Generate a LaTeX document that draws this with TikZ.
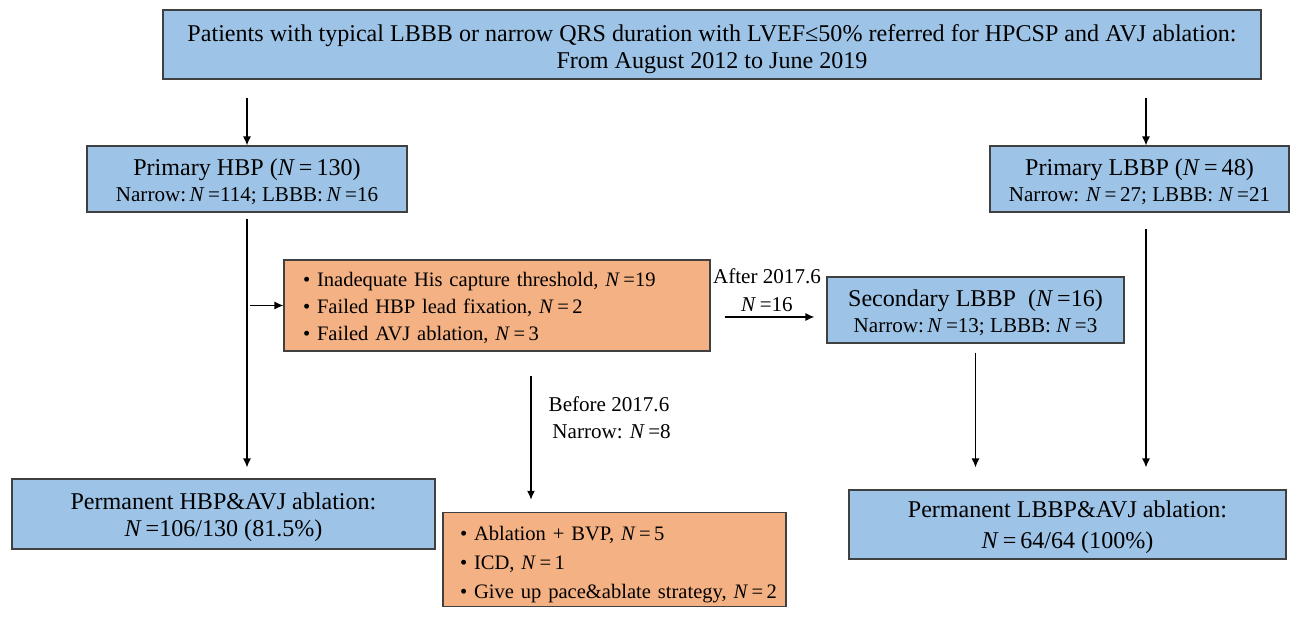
\documentclass[tikz,border=0pt]{standalone}
\usepackage{fontspec}
\setmainfont{Liberation Serif}
\usepackage{xcolor}
\usepackage{tikz}
\usetikzlibrary{arrows.meta,positioning}
\definecolor{boxblue}{HTML}{9DC3E6}
\definecolor{boxorange}{HTML}{F4B183}
\definecolor{boxline}{HTML}{404040}
\newcommand{\bigtext}{\fontsize{13.7}{15.4}\selectfont}
\newcommand{\smalltext}{\fontsize{12}{15.6}\selectfont}
\newcommand{\listtext}{\fontsize{11.7}{15.4}\selectfont}
\newcommand{\looselist}{\fontsize{11.7}{16.5}\selectfont}
\newcommand{\Nv}{\textit{N}}
\newcommand{\lift}[1][13pt]{\rule{0pt}{#1}}
\tikzset{
	>={Latex[length=1.8mm,width=1.6mm]},
	link/.style = {->, draw=black, line width=0.8pt},
	bluebox/.style = {
			draw            = boxline,
			fill            = boxblue,
			line width      = 0.6pt,
			align           = center,
			inner sep       = 2pt,
		},
	orangebox/.style = {
			draw            = boxline,
			fill            = boxorange,
			line width      = 0.6pt,
			align           = left,
			inner ysep      = 2pt,
			font            = \listtext,
			execute at begin node = {\rule{0pt}{#1}},
		},
	orangebox/.default = 11.4pt,
}

\begin{document}
\begin{tikzpicture}
	\useasboundingbox (0,0) rectangle (25.82,12.5);
	% Boxes
	\node[bluebox,minimum width=21.96cm,minimum height=1.38cm,font=\bigtext] (Patients) at (14.24,11.61)
	{\lift[15.4pt]Patients with typical LBBB or narrow QRS duration with LVEF≤50\% referred for HPCSP and AVJ ablation:\\
		From August 2012 to June 2019};
	\node[bluebox,minimum width=6.4cm,minimum height=1.32cm] (Primary HBP) at (4.94,8.92)
	{\bigtext\lift Primary HBP (\Nv\,=\,130)\\[0.1cm]
		\smalltext Narrow:\,\Nv\,=114; LBBB:\,\Nv\,=16};
	\node[bluebox,minimum width=5.98cm,minimum height=1.32cm] (Primary LBBP) at (22.79,8.92)
	{\bigtext\lift Primary LBBP (\Nv\,=\,48)\\[0.1cm]
		\smalltext Narrow: \Nv\,=\,27; LBBB: \Nv\,=21};
	\node[orangebox,minimum width=8.52cm,minimum height=1.82cm,text width=7.76cm,inner xsep=0.38cm] (Failed HBP) at (9.94,6.39)
	{\textbullet\ Inadequate His capture threshold, \Nv\,=19\\
		\textbullet\ Failed HBP lead fixation, \Nv\,=\,2\\
		\textbullet\ Failed AVJ ablation, \Nv\,=\,3};
	\node[bluebox,minimum width=5.94cm,minimum height=1.32cm] (Secondary LBBP) at (19.51,6.30)
	{\bigtext\lift Secondary LBBP\ \ (\Nv\,=16)\\[0.1cm]
		\smalltext Narrow:\,\Nv\,=13; LBBB: \Nv\,=3};
	\node[bluebox,minimum width=8.46cm,minimum height=1.40cm,font=\bigtext] (Permanent HBP) at (4.47,2.22)
	{\lift Permanent HBP\&AVJ ablation:\\
		\Nv\,=106/130 (81.5\%)};
	\node[orangebox=14.2pt,minimum width=6.86cm,minimum height=1.82cm,text width=6.18cm,inner xsep=0.34cm,font=\looselist] (Other strategy) at (12.29,1.31)
	{\textbullet\ Ablation + BVP, \Nv\,=\,5\\
		\textbullet\ ICD, \Nv\,=\,1\\
		\mbox{\textbullet\ Give up pace\&ablate strategy, \Nv\,=\,2}};
	\node[bluebox,minimum width=8.74cm,minimum height=1.38cm,font=\bigtext] (Permanent LBBP) at (21.35,2.01)
	{\lift Permanent LBBP\&AVJ ablation:\\[0.08cm]
		\Nv\,=\,64/64 (100\%)};

	% Labels
	\node[align=center,font=\smalltext] (After) at (15.34,6.70) {After 2017.6\\ \Nv\,=16};
	\node[align=center,font=\smalltext] (Before) at (12.18,4.14) {Before 2017.6\\ \ Narrow: \Nv\,=8};

	\coordinate (Split) at (Primary HBP.south |- Failed HBP.west);
	\coordinate (LBBP top) at ([xshift=0.13cm]Primary LBBP.north);
	\coordinate (LBBP bottom) at ([xshift=0.13cm]Primary LBBP.south);
	\coordinate (Fail right) at ([yshift=-0.23cm]Failed HBP.east);
	\coordinate (Fail bottom) at ([xshift=0.68cm]Failed HBP.south);

	\draw[link,shorten <=0.36cm] (Patients.south -| Primary HBP.north) to (Primary HBP.north);
	\draw[link,shorten <=0.36cm] (Patients.south -| LBBP top) to (LBBP top);
	\draw[link,shorten <=0.12cm,shorten >=0.22cm] (Primary HBP.south) to (Primary HBP.south |- Permanent HBP.north);
	\draw[link,shorten <=0.06cm] (Split) to (Failed HBP.west);
	\draw[link,shorten <=0.28cm,shorten >=0.24cm] (Fail right) to (Fail right -| Secondary LBBP.west);
	\draw[link,shorten <=0.48cm,shorten >=0.24cm] (Fail bottom) to (Fail bottom |- Other strategy.north);
	\draw[link,shorten <=0.18cm,shorten >=0.44cm] (Secondary LBBP.south) to (Secondary LBBP.south |- Permanent LBBP.north);
	\draw[link,shorten <=0.32cm,shorten >=0.44cm] (LBBP bottom) to (LBBP bottom |- Permanent LBBP.north);
\end{tikzpicture}
\end{document}
